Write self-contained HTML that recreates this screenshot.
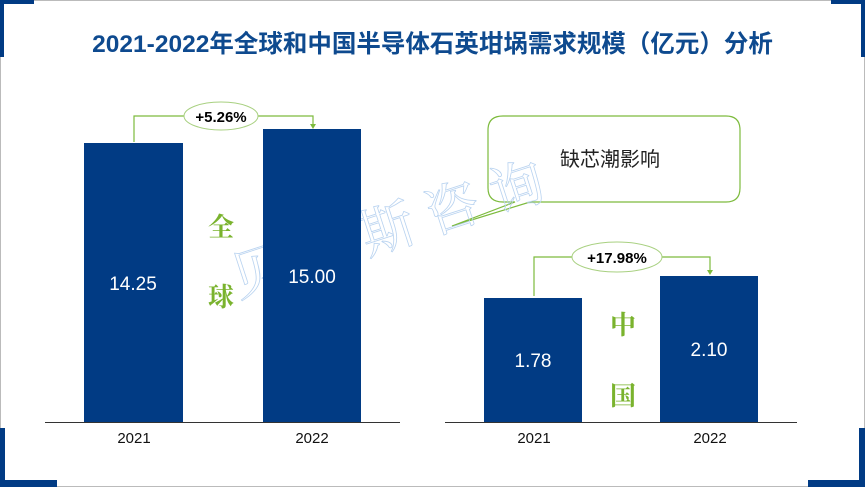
<!DOCTYPE html>
<html><head><meta charset="utf-8"><style>
body{margin:0;width:865px;height:487px;overflow:hidden;background:#fff;font-family:"Liberation Sans","Noto Sans CJK SC",sans-serif}
.a{position:absolute}
.b{position:absolute;background:#013b84}
</style></head><body>
<div class="a" style="left:0;top:0;width:863px;height:485px;border:1px solid #bbb"></div>
<div class="b" style="left:0;top:0;width:34px;height:4px"></div>
<div class="b" style="left:0;top:0;width:4px;height:57px"></div>
<div class="b" style="left:831px;top:0;width:34px;height:4px"></div>
<div class="b" style="left:861px;top:0;width:4px;height:57px"></div>
<div class="b" style="left:0;top:428px;width:5px;height:59px"></div>
<div class="b" style="left:0;top:480px;width:57px;height:7px"></div>
<div class="b" style="left:859px;top:428px;width:6px;height:59px"></div>
<div class="b" style="left:808px;top:480px;width:57px;height:7px"></div>
<div class="a" style="left:0;top:25px;width:865px;text-align:center;font-size:24.5px;font-weight:bold;color:#0e4a8f;white-space:nowrap;font-family:'Liberation Sans','Noto Sans CJK SC',sans-serif">2021-2022年全球和中国半导体石英坩埚需求规模（亿元）分析</div>
<svg class="a" style="left:0;top:0" width="865" height="487">
<g fill="none" stroke="#7dbb3d" stroke-width="1.2">
<path d="M134 142V116H313V126"/><path d="M534 296V257H710V272"/>
<path d="M503 116H726Q740 116 740 130V188Q740 202 726 202H530L452 226L515 202H503Q488 202 488 188V130Q488 116 503 116Z"/>
</g>
<path d="M310 124L316 124L313 129Z" fill="#7dbb3d"/><path d="M707 270L713 270L710 275Z" fill="#7dbb3d"/>
<ellipse cx="221" cy="116" rx="37" ry="14" fill="#fff" stroke="#a8d080"/>
<ellipse cx="617" cy="257" rx="45" ry="15" fill="#fff" stroke="#a8d080"/>
<text x="221" y="122" text-anchor="middle" font-size="15" font-weight="bold" fill="#000">+5.26%</text>
<text x="617" y="263" text-anchor="middle" font-size="15" font-weight="bold" fill="#000">+17.98%</text>
<text x="610" y="166" text-anchor="middle" font-size="20" fill="#222" font-family="Noto Sans CJK SC">缺芯潮影响</text>
<text x="400" y="245" text-anchor="middle" font-size="54" fill="none" stroke="#b9d3f0" stroke-width="0.8" transform="rotate(-18 400 245)" font-family="Noto Serif CJK SC" letter-spacing="14">贝哲斯咨询</text>
<rect x="84" y="143" width="99" height="279" fill="#013b84"/>
<rect x="263" y="129" width="98" height="293" fill="#013b84"/>
<rect x="484" y="298" width="98" height="124" fill="#013b84"/>
<rect x="660" y="276" width="98" height="146" fill="#013b84"/>
<line x1="45" y1="422.5" x2="400" y2="422.5" stroke="#333"/>
<line x1="445" y1="422.5" x2="797" y2="422.5" stroke="#333"/>
<g fill="#fff" font-size="19" text-anchor="middle">
<text x="133" y="290">14.25</text><text x="312" y="283">15.00</text>
<text x="533" y="367">1.78</text><text x="709" y="356">2.10</text></g>
<g fill="#111" font-size="15" text-anchor="middle">
<text x="134" y="443">2021</text><text x="312" y="443">2022</text>
<text x="534" y="443">2021</text><text x="710" y="443">2022</text></g>
<g fill="#7ab32e" font-size="26" font-weight="bold" text-anchor="middle" font-family="Noto Serif CJK SC">
<text x="221" y="236">全</text><text x="221" y="306">球</text>
<text x="623" y="334">中</text><text x="623" y="405">国</text></g>
</svg>
</body></html>
